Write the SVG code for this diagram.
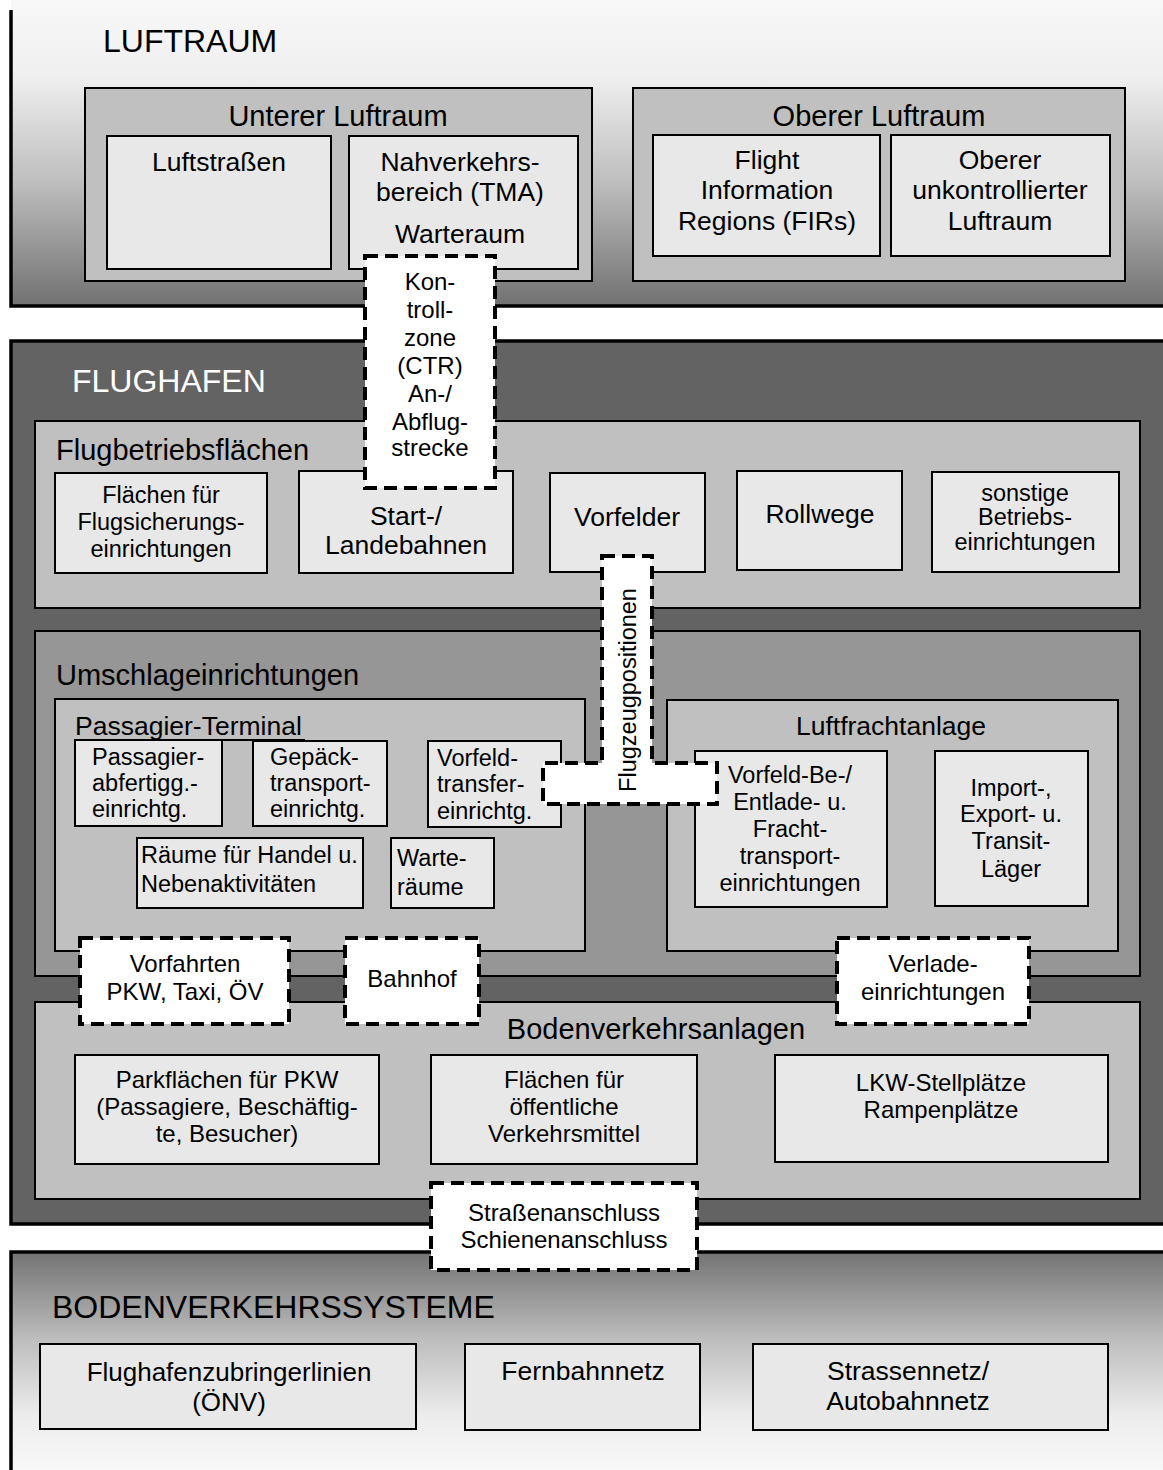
<svg xmlns="http://www.w3.org/2000/svg" width="1163" height="1470" viewBox="0 0 1163 1470">
  <defs>
    <linearGradient id="gradSky" x1="0" y1="0" x2="0" y2="1">
      <stop offset="0" stop-color="#f8f8f8"/>
      <stop offset="0.25" stop-color="#efefef"/>
      <stop offset="0.6" stop-color="#bdbdbd"/>
      <stop offset="1" stop-color="#717171"/>
    </linearGradient>
    <linearGradient id="gradGround" x1="0" y1="0" x2="0" y2="1">
      <stop offset="0" stop-color="#737373"/>
      <stop offset="0.4" stop-color="#bdbdbd"/>
      <stop offset="0.75" stop-color="#ececec"/>
      <stop offset="1" stop-color="#f8f8f8"/>
    </linearGradient>
    <style>
      text { font-family: "Liberation Sans", Arial, sans-serif; fill: #000; }
      .sec { font-size: 32px; }
      .ttl { font-size: 29px; }
      .lg { font-size: 26.5px; }
      .md { font-size: 24px; }
      .sm { font-size: 23.5px; }
      .c { text-anchor: middle; }
      .edge { stroke: #000; stroke-width: 3.5; fill: none; }
      .box { stroke: #000; stroke-width: 2; }
      .mid { fill: #c0c0c0; }
      .light { fill: #e8e8e8; }
      .dark { fill: #969696; }
      .dash { fill: #fff; stroke: #000; stroke-width: 4; stroke-dasharray: 13 7; }
    </style>
  </defs>

  <rect x="0" y="0" width="1163" height="1470" fill="#fff"/>

  <!-- Airspace band -->
  <g id="luftraum">
    <rect x="11" y="0" width="1152" height="306" fill="url(#gradSky)"/>
    <path class="edge" d="M11 10 V306 H1163"/>
    <text class="sec" x="103" y="52">LUFTRAUM</text>

    <g id="unterer-luftraum">
      <rect class="box mid" x="85" y="88" width="507" height="193"/>
      <text class="ttl c" x="338" y="126">Unterer Luftraum</text>
      <g id="luftstrassen">
        <rect class="box light" x="107" y="136" width="224" height="133"/>
        <text class="lg c" x="219" y="171">Luftstraßen</text>
      </g>
      <g id="tma">
        <rect class="box light" x="349" y="136" width="229" height="133"/>
        <text class="lg c" x="460" y="171">Nahverkehrs-</text>
        <text class="lg c" x="460" y="201">bereich (TMA)</text>
        <text class="lg c" x="460" y="243">Warteraum</text>
      </g>
    </g>

    <g id="oberer-luftraum">
      <rect class="box mid" x="633" y="88" width="492" height="193"/>
      <text class="ttl c" x="879" y="126">Oberer Luftraum</text>
      <g id="firs">
        <rect class="box light" x="653" y="135" width="227" height="121"/>
        <text class="lg c" x="767" y="169">Flight</text>
        <text class="lg c" x="767" y="199">Information</text>
        <text class="lg c" x="767" y="230">Regions (FIRs)</text>
      </g>
      <g id="unkontrolliert">
        <rect class="box light" x="891" y="135" width="219" height="121"/>
        <text class="lg c" x="1000" y="169">Oberer</text>
        <text class="lg c" x="1000" y="199">unkontrollierter</text>
        <text class="lg c" x="1000" y="230">Luftraum</text>
      </g>
    </g>
  </g>

  <!-- Airport band -->
  <g id="flughafen">
    <rect x="11" y="341" width="1152" height="883" fill="#636363"/>
    <path class="edge" d="M1163 341 H11 V1224 H1163"/>
    <text class="sec" x="72" y="392" style="fill:#fff">FLUGHAFEN</text>

    <g id="flugbetriebsflaechen">
      <rect class="box mid" x="35" y="421" width="1105" height="187"/>
      <text class="ttl" x="56" y="460">Flugbetriebsflächen</text>
      <g id="flugsicherung">
        <rect class="box light" x="55" y="473" width="212" height="100"/>
        <text class="sm c" x="161" y="503">Flächen für</text>
        <text class="sm c" x="161" y="530">Flugsicherungs-</text>
        <text class="sm c" x="161" y="557">einrichtungen</text>
      </g>
      <g id="bahnen">
        <rect class="box light" x="299" y="471" width="214" height="102"/>
        <text class="lg c" x="406" y="525">Start-/</text>
        <text class="lg c" x="406" y="554">Landebahnen</text>
      </g>
      <g id="vorfelder">
        <rect class="box light" x="550" y="473" width="155" height="99"/>
        <text class="lg c" x="627" y="526">Vorfelder</text>
      </g>
      <g id="rollwege">
        <rect class="box light" x="737" y="471" width="165" height="99"/>
        <text class="lg c" x="820" y="523">Rollwege</text>
      </g>
      <g id="sonstige">
        <rect class="box light" x="932" y="472" width="187" height="100"/>
        <text class="sm c" x="1025" y="501">sonstige</text>
        <text class="sm c" x="1025" y="525">Betriebs-</text>
        <text class="sm c" x="1025" y="550">einrichtungen</text>
      </g>
    </g>

    <g id="umschlageinrichtungen">
      <rect class="box dark" x="35" y="631" width="1105" height="345"/>
      <text class="ttl" x="56" y="685">Umschlageinrichtungen</text>

      <g id="passagier-terminal">
        <rect class="box mid" x="55" y="699" width="530" height="252"/>
        <text class="lg" x="75" y="735">Passagier-Terminal</text>
        <g id="abfertigung">
          <rect class="box light" x="75" y="740" width="147" height="86"/>
          <text class="sm" x="92" y="765">Passagier-</text>
          <text class="sm" x="92" y="791">abfertigg.-</text>
          <text class="sm" x="92" y="817">einrichtg.</text>
        </g>
        <line x1="75" y1="740" x2="305" y2="740" stroke="#000" stroke-width="2"/>
        <g id="gepaeck">
          <rect class="box light" x="253" y="741" width="134" height="85"/>
          <text class="sm" x="270" y="765">Gepäck-</text>
          <text class="sm" x="270" y="791">transport-</text>
          <text class="sm" x="270" y="817">einrichtg.</text>
        </g>
        <g id="vorfeldtransfer">
          <rect class="box light" x="428" y="741" width="133" height="86"/>
          <text class="sm" x="437" y="766">Vorfeld-</text>
          <text class="sm" x="437" y="792">transfer-</text>
          <text class="sm" x="437" y="819">einrichtg.</text>
        </g>
        <g id="handel">
          <rect class="box light" x="137" y="838" width="226" height="70"/>
          <text class="sm" x="141" y="863">Räume für Handel u.</text>
          <text class="sm" x="141" y="892">Nebenaktivitäten</text>
        </g>
        <g id="warteraeume">
          <rect class="box light" x="391" y="838" width="103" height="70"/>
          <text class="sm" x="397" y="866">Warte-</text>
          <text class="sm" x="397" y="895">räume</text>
        </g>
      </g>

      <g id="luftfrachtanlage">
        <rect class="box mid" x="667" y="700" width="451" height="251"/>
        <text class="lg c" x="891" y="735">Luftfrachtanlage</text>
        <g id="frachttransport">
          <rect class="box light" x="695" y="751" width="192" height="156"/>
          <text class="sm c" x="790" y="783">Vorfeld-Be-/</text>
          <text class="sm c" x="790" y="810">Entlade- u.</text>
          <text class="sm c" x="790" y="837">Fracht-</text>
          <text class="sm c" x="790" y="864">transport-</text>
          <text class="sm c" x="790" y="891">einrichtungen</text>
        </g>
        <g id="laeger">
          <rect class="box light" x="935" y="751" width="153" height="155"/>
          <text class="sm c" x="1011" y="796">Import-,</text>
          <text class="sm c" x="1011" y="822">Export- u.</text>
          <text class="sm c" x="1011" y="849">Transit-</text>
          <text class="sm c" x="1011" y="877">Läger</text>
        </g>
      </g>
    </g>

    <g id="bodenverkehrsanlagen">
      <rect class="box mid" x="35" y="1002" width="1105" height="197"/>
      <text class="ttl c" x="656" y="1039">Bodenverkehrsanlagen</text>
      <g id="parkflaechen">
        <rect class="box light" x="75" y="1055" width="304" height="109"/>
        <text class="md c" x="227" y="1088">Parkflächen für PKW</text>
        <text class="md c" x="227" y="1115">(Passagiere, Beschäftig-</text>
        <text class="md c" x="227" y="1142">te, Besucher)</text>
      </g>
      <g id="oev-flaechen">
        <rect class="box light" x="431" y="1055" width="266" height="109"/>
        <text class="md c" x="564" y="1088">Flächen für</text>
        <text class="md c" x="564" y="1115">öffentliche</text>
        <text class="md c" x="564" y="1142">Verkehrsmittel</text>
      </g>
      <g id="lkw">
        <rect class="box light" x="775" y="1055" width="333" height="107"/>
        <text class="md c" x="941" y="1091">LKW-Stellplätze</text>
        <text class="md c" x="941" y="1118">Rampenplätze</text>
      </g>
    </g>
  </g>

  <!-- Ground transport band -->
  <g id="bodenverkehrssysteme">
    <rect x="11" y="1252" width="1152" height="218" fill="url(#gradGround)"/>
    <path class="edge" d="M1163 1252 H11 V1470"/>
    <text class="sec" x="52" y="1318">BODENVERKEHRSSYSTEME</text>
    <g id="zubringer">
      <rect class="box light" x="40" y="1344" width="376" height="85"/>
      <text class="c" style="font-size:26px" x="229" y="1381">Flughafenzubringerlinien</text>
      <text class="c" style="font-size:26px" x="229" y="1411">(ÖNV)</text>
    </g>
    <g id="fernbahn">
      <rect class="box light" x="465" y="1344" width="235" height="86"/>
      <text class="lg c" x="583" y="1380">Fernbahnnetz</text>
    </g>
    <g id="strassennetz">
      <rect class="box light" x="753" y="1344" width="355" height="86"/>
      <text class="lg c" x="908" y="1380">Strassennetz/</text>
      <text class="lg c" x="908" y="1410">Autobahnnetz</text>
    </g>
  </g>

  <!-- Interface zones drawn across the bands -->
  <g id="kontrollzone">
    <rect class="dash" x="365" y="256" width="130" height="232"/>
    <text class="md c" x="430" y="290">Kon-</text>
    <text class="md c" x="430" y="318">troll-</text>
    <text class="md c" x="430" y="346">zone</text>
    <text class="md c" x="430" y="374">(CTR)</text>
    <text class="md c" x="430" y="402">An-/</text>
    <text class="md c" x="430" y="430">Abflug-</text>
    <text class="md c" x="430" y="456">strecke</text>
  </g>

  <g id="flugzeugpositionen">
    <path class="dash" d="M602 556 H652 V763 H717 V804 H543 V763 H602 Z"/>
    <text class="sm c" transform="translate(636 690) rotate(-90)">Flugzeugpositionen</text>
  </g>

  <g id="vorfahrten">
    <rect class="dash" x="80" y="938" width="209" height="86"/>
    <text class="md c" x="185" y="972">Vorfahrten</text>
    <text class="md c" x="185" y="1000">PKW, Taxi, ÖV</text>
  </g>

  <g id="bahnhof">
    <rect class="dash" x="345" y="938" width="134" height="86"/>
    <text class="md c" x="412" y="987">Bahnhof</text>
  </g>

  <g id="verladeeinrichtungen">
    <rect class="dash" x="837" y="938" width="192" height="86"/>
    <text class="md c" x="933" y="972">Verlade-</text>
    <text class="md c" x="933" y="1000">einrichtungen</text>
  </g>

  <g id="anschluss">
    <rect class="dash" x="431" y="1183" width="266" height="87"/>
    <text class="md c" x="564" y="1221">Straßenanschluss</text>
    <text class="md c" x="564" y="1248">Schienenanschluss</text>
  </g>
</svg>
